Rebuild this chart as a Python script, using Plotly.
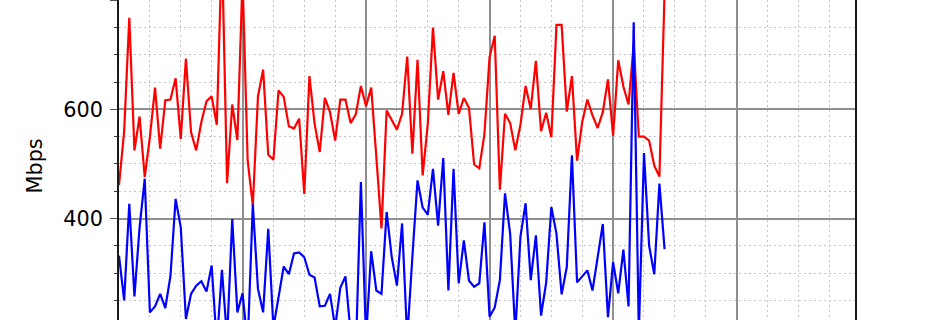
import plotly.graph_objects as go

# sample index (x) and throughput series (Mbps)
red_mbps = [461, 560, 768, 525, 587, 476, 549, 640, 528, 617,
            618, 657, 546, 693, 558, 525, 577, 615, 624, 572,
            900, 465, 609, 544, 840, 506, 424, 624, 673, 517,
            508, 635, 623, 569, 565, 583, 445, 661, 574, 522,
            621, 595, 543, 618, 618, 575, 591, 643, 606, 640,
            513, 382, 598, 581, 563, 592, 697, 519, 691, 479,
            574, 750, 618, 670, 590, 667, 592, 621, 603, 499,
            492, 555, 696, 735, 453, 592, 575, 525, 572, 643,
            601, 689, 560, 594, 549, 755, 755, 596, 661, 506,
            577, 618, 589, 566, 595, 655, 552, 690, 642, 609,
            720, 550, 550, 543, 497, 477, 815]

blue_mbps = [332, 250, 427, 257, 384, 473, 228, 239, 262, 236,
             295, 436, 384, 216, 262, 277, 285, 266, 314, 170,
             306, 180, 399, 228, 263, 170, 426, 271, 228, 381,
             200, 256, 312, 298, 336, 338, 329, 297, 292, 239,
             240, 262, 200, 273, 294, 190, 150, 467, 180, 340,
             268, 262, 412, 329, 277, 391, 180, 330, 470, 420,
             407, 491, 387, 511, 268, 491, 281, 360, 286, 275,
             281, 393, 220, 237, 287, 446, 372, 190, 367, 428,
             287, 369, 222, 283, 421, 372, 261, 311, 516, 283,
             294, 305, 268, 326, 390, 219, 320, 263, 343, 239,
             760, 190, 520, 350, 298, 464, 344]

x_idx = list(range(len(red_mbps)))

y_label = "Mbps"

fig = go.Figure()
fig.add_trace(go.Scatter(x=x_idx, y=red_mbps, mode="lines",
                         line=dict(color="#ff0000", width=2.2), showlegend=False))
fig.add_trace(go.Scatter(x=x_idx, y=blue_mbps, mode="lines",
                         line=dict(color="#0000ff", width=2.2), showlegend=False))

major_grid = "#8f8f8f"
minor_grid = "#c4c4c4"
dot = "1.5px,3.5px"
fsize = 20.8

fig.update_layout(
    width=950, height=320,
    margin=dict(l=119, r=95, t=0, b=0, pad=0),
    paper_bgcolor="white", plot_bgcolor="white",
    font=dict(family="DejaVu Sans", size=fsize, color="black"),
    xaxis=dict(range=[0, 143], tick0=0, dtick=24, showgrid=True,
               gridcolor=major_grid, gridwidth=1.5, zeroline=False,
               showline=False, showticklabels=False, ticks="",
               minor=dict(dtick=6, showgrid=True, gridcolor=minor_grid,
                          gridwidth=1, griddash=dot)),
    yaxis=dict(range=[214.0, 800.6], tick0=0, dtick=200, showgrid=True,
               gridcolor=major_grid, gridwidth=1.5, zeroline=False,
               showline=True, linecolor="#1a1a1a", linewidth=1.8, mirror=True,
               ticks="outside", ticklen=7, tickwidth=1.2, tickcolor="#555555",
               ticklabelstandoff=3,
               tickfont=dict(family="DejaVu Sans", size=fsize, color="black"),
               minor=dict(dtick=50, ticks="outside", ticklen=3.5, tickwidth=1,
                          tickcolor="#333333", showgrid=True,
                          gridcolor=minor_grid, gridwidth=1, griddash=dot)),
    annotations=[dict(text=y_label, xref="paper", yref="paper",
                      x=(34.5 - 119) / 736, y=(320 - 166) / 320,
                      xanchor="center", yanchor="middle", textangle=-90,
                      showarrow=False,
                      font=dict(family="DejaVu Sans", size=fsize, color="black"))],
)

fig.write_html("out.html")
